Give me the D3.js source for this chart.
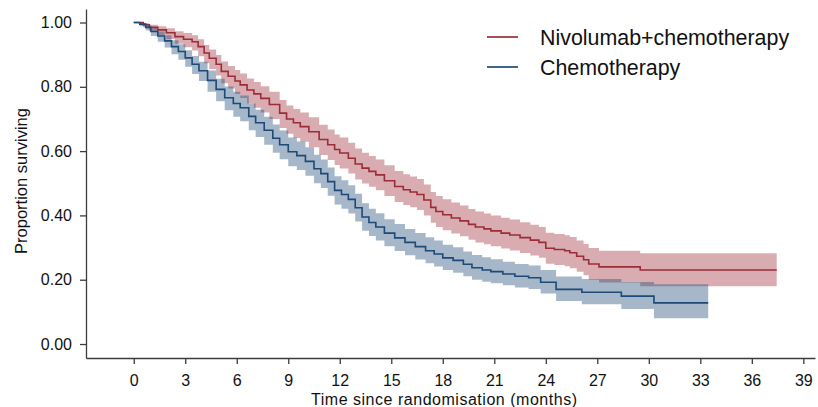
<!DOCTYPE html>
<html>
<head>
<meta charset="utf-8">
<script src="https://cdn.jsdelivr.net/npm/d3@7/dist/d3.min.js"></script>
<style>
  html, body { margin: 0; padding: 0; background: #fff; }
  svg { display: block; font-family: "Liberation Sans", Arial, Helvetica, sans-serif; }
  .axis path, .axis line { stroke: #3c3c3c; stroke-width: 1.3; }
  .axis text { fill: #111; font-size: 16px; }
</style>
</head>
<body>
<svg id="chart" width="818" height="407"></svg>
<script>
// Kaplan-Meier estimates (proportion surviving) with 95% confidence limits

// Nivolumab + chemotherapy arm
const nivoTime  = [0, 0.55, 0.9, 1.4, 1.9, 2.4, 2.9, 3.4, 3.75, 4.1, 4.4, 4.8, 5.1, 5.5, 5.9, 6.2, 6.6, 7.0, 7.4, 7.9,
                   8.5, 8.9, 9.3, 9.7, 10.2, 10.8, 11.3, 11.7, 12.0, 12.5, 12.9, 13.3, 13.7, 14.1, 14.6, 15.2, 15.7, 16.1,
                   16.5, 16.9, 17.3, 17.6, 18.0, 18.5, 19.0, 19.5, 19.9, 20.4, 20.8, 21.4, 21.9, 22.5, 23.1, 23.6, 24.0,
                   24.5, 25.1, 25.4, 25.8, 26.2, 26.5, 27.1, 29.5, 37.45];
const nivoSurv  = [1.000, 0.993, 0.985, 0.977, 0.968, 0.956, 0.948, 0.940, 0.925, 0.905, 0.889, 0.870, 0.848, 0.833, 0.818,
                   0.806, 0.790, 0.778, 0.764, 0.745, 0.718, 0.700, 0.688, 0.676, 0.660, 0.636, 0.620, 0.605, 0.594, 0.578,
                   0.560, 0.547, 0.537, 0.526, 0.508, 0.490, 0.480, 0.473, 0.465, 0.448, 0.425, 0.412, 0.402, 0.392, 0.383,
                   0.372, 0.364, 0.358, 0.352, 0.345, 0.339, 0.331, 0.323, 0.316, 0.298, 0.294, 0.290, 0.284, 0.273, 0.262,
                   0.249, 0.240, 0.230, 0.230];
const nivoLower = [1.000, 0.985, 0.973, 0.961, 0.949, 0.934, 0.923, 0.913, 0.895, 0.873, 0.855, 0.835, 0.811, 0.795, 0.778,
                   0.765, 0.748, 0.735, 0.720, 0.700, 0.672, 0.654, 0.641, 0.629, 0.612, 0.588, 0.572, 0.557, 0.546, 0.530,
                   0.512, 0.499, 0.489, 0.478, 0.460, 0.442, 0.432, 0.425, 0.417, 0.400, 0.377, 0.364, 0.354, 0.344, 0.335,
                   0.324, 0.316, 0.310, 0.304, 0.297, 0.291, 0.283, 0.275, 0.268, 0.250, 0.246, 0.242, 0.236, 0.225, 0.214,
                   0.200, 0.191, 0.180, 0.180];
const nivoUpper = [1.000, 0.998, 0.993, 0.988, 0.982, 0.973, 0.967, 0.960, 0.948, 0.930, 0.916, 0.899, 0.879, 0.865, 0.852,
                   0.841, 0.826, 0.815, 0.802, 0.785, 0.759, 0.742, 0.731, 0.720, 0.705, 0.682, 0.667, 0.652, 0.642, 0.626,
                   0.608, 0.595, 0.585, 0.574, 0.556, 0.538, 0.528, 0.521, 0.513, 0.496, 0.473, 0.460, 0.450, 0.440, 0.431,
                   0.420, 0.412, 0.406, 0.400, 0.393, 0.387, 0.379, 0.371, 0.364, 0.346, 0.342, 0.338, 0.333, 0.322, 0.311,
                   0.299, 0.290, 0.282, 0.282];

// Chemotherapy arm
const chemoTime  = [0, 0.35, 0.7, 1.0, 1.4, 1.8, 2.2, 2.6, 3.0, 3.4, 3.8, 4.3, 4.8, 5.3, 5.8, 6.2, 6.7, 7.1, 7.6, 8.1, 8.5,
                    9.0, 9.5, 10.0, 10.5, 10.9, 11.3, 11.7, 12.1, 12.5, 12.9, 13.3, 13.7, 14.1, 14.6, 15.2, 15.8, 16.4, 17.0,
                    17.5, 18.0, 18.6, 19.2, 19.7, 20.3, 20.8, 21.5, 22.2, 23.0, 23.7, 24.6, 26.1, 28.4, 30.3, 33.46];
const chemoSurv  = [1.000, 0.995, 0.985, 0.972, 0.958, 0.943, 0.925, 0.910, 0.890, 0.870, 0.850, 0.820, 0.792, 0.766, 0.748,
                    0.735, 0.708, 0.688, 0.665, 0.640, 0.620, 0.598, 0.586, 0.568, 0.545, 0.530, 0.505, 0.478, 0.465, 0.450,
                    0.424, 0.395, 0.378, 0.364, 0.345, 0.330, 0.316, 0.303, 0.290, 0.280, 0.268, 0.260, 0.248, 0.237, 0.230,
                    0.225, 0.218, 0.211, 0.206, 0.192, 0.170, 0.161, 0.149, 0.128, 0.128];
const chemoLower = [1.000, 0.988, 0.975, 0.958, 0.940, 0.922, 0.901, 0.884, 0.862, 0.840, 0.818, 0.785, 0.755, 0.727, 0.707,
                    0.693, 0.665, 0.644, 0.620, 0.595, 0.575, 0.553, 0.541, 0.523, 0.500, 0.485, 0.461, 0.434, 0.421, 0.406,
                    0.381, 0.352, 0.336, 0.322, 0.304, 0.289, 0.276, 0.263, 0.251, 0.241, 0.230, 0.222, 0.211, 0.200, 0.194,
                    0.189, 0.183, 0.176, 0.171, 0.157, 0.134, 0.124, 0.109, 0.080, 0.080];
const chemoUpper = [1.000, 0.999, 0.993, 0.983, 0.972, 0.960, 0.945, 0.932, 0.914, 0.896, 0.878, 0.851, 0.825, 0.801, 0.785,
                    0.773, 0.748, 0.729, 0.707, 0.683, 0.664, 0.642, 0.630, 0.612, 0.589, 0.574, 0.549, 0.522, 0.509, 0.494,
                    0.467, 0.438, 0.421, 0.407, 0.388, 0.373, 0.358, 0.345, 0.332, 0.322, 0.309, 0.301, 0.288, 0.277, 0.270,
                    0.264, 0.256, 0.249, 0.244, 0.230, 0.210, 0.202, 0.193, 0.186, 0.186];

const xTicks = [0, 3, 6, 9, 12, 15, 18, 21, 24, 27, 30, 33, 36, 39];
const yTicks = [0, 0.2, 0.4, 0.6, 0.8, 1.0];
const legendLabels = ["Nivolumab+chemotherapy", "Chemotherapy"];

const arms = [
  { name: legendLabels[0], time: nivoTime, surv: nivoSurv, lo: nivoLower, hi: nivoUpper,
    line: "#9b2d38", band: "rgba(160,48,60,0.40)" },
  { name: legendLabels[1], time: chemoTime, surv: chemoSurv, lo: chemoLower, hi: chemoUpper,
    line: "#1d4a77", band: "rgba(30,75,120,0.40)" }
];

const svg = d3.select("#chart");

const x = d3.scaleLinear().domain([-2.78, 39.68]).range([86, 815]);
const y = d3.scaleLinear().domain([-0.0435, 1.042]).range([358, 9]);

// confidence bands
const band = d3.area()
  .curve(d3.curveStepAfter)
  .x(d => x(d.t))
  .y0(d => y(d.lo))
  .y1(d => y(d.hi));

const line = d3.line()
  .curve(d3.curveStepAfter)
  .x(d => x(d.t))
  .y(d => y(d.s));

arms.forEach(a => {
  a.rows = a.time.map((t, i) => ({ t: t, s: a.surv[i], lo: a.lo[i], hi: a.hi[i] }));
});

svg.append("g").selectAll("path")
  .data(arms)
  .join("path")
  .attr("d", a => band(a.rows))
  .attr("fill", a => a.band)
  .attr("stroke", "none");

svg.append("g").selectAll("path")
  .data(arms)
  .join("path")
  .attr("d", a => line(a.rows))
  .attr("fill", "none")
  .attr("stroke", a => a.line)
  .attr("stroke-width", 1.6);

// axes
svg.append("g")
  .attr("class", "axis")
  .attr("transform", "translate(0,358)")
  .call(d3.axisBottom(x).tickValues(xTicks).tickSize(6).tickSizeOuter(0).tickPadding(11));

svg.append("g")
  .attr("class", "axis")
  .attr("transform", "translate(86,0)")
  .call(d3.axisLeft(y).tickValues(yTicks).tickFormat(d3.format(".2f")).tickSize(6).tickSizeOuter(0).tickPadding(8));

svg.append("text")
  .attr("x", 444).attr("y", 405)
  .attr("text-anchor", "middle")
  .attr("font-size", 16).attr("fill", "#111")
  .attr("textLength", 266).attr("lengthAdjust", "spacing")
  .text("Time since randomisation (months)");

svg.append("text")
  .attr("transform", "translate(27,181) rotate(-90)")
  .attr("text-anchor", "middle")
  .attr("font-size", 16.5).attr("fill", "#111")
  .text("Proportion surviving");

// legend
const legend = svg.append("g").selectAll("g")
  .data(arms)
  .join("g")
  .attr("transform", (a, i) => `translate(487,${37 + i * 30})`);

legend.append("line")
  .attr("x1", 0).attr("x2", 31)
  .attr("stroke", a => a.line)
  .attr("stroke-width", 1.7);

legend.append("text")
  .attr("x", 53).attr("dy", "0.36em")
  .attr("font-size", 21.4).attr("fill", "#111")
  .text(a => a.name);
</script>
</body>
</html>
